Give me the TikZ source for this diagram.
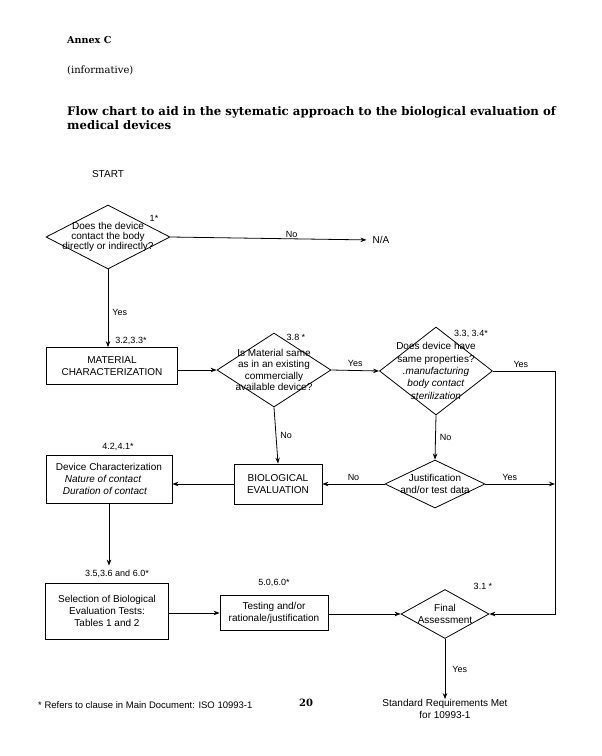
\documentclass[tikz,border=0pt]{standalone}
\usepackage{fontspec}
\setmainfont{Liberation Sans}
\newfontfamily\hdr{DejaVu Serif}
\usetikzlibrary{shapes.geometric,arrows.meta}
\begin{document}
\begin{tikzpicture}[x=1pt,y=-1pt,
  font=\fontsize{10}{12}\selectfont,
  box/.style={draw, line width=0.8pt, align=center, inner sep=0pt},
  dia/.style={draw, diamond, line width=0.8pt, inner sep=0pt},
  arr/.style={-{Stealth[length=6pt,width=4.5pt]}, line width=0.8pt},
  ln/.style={line width=0.8pt},
  lbl/.style={font=\fontsize{9}{10}\selectfont, inner sep=1pt},
  txt/.style={inner sep=0pt, align=center}]
\useasboundingbox (0,0) rectangle (602,756);

% header
\node[anchor=west, inner sep=0pt, font=\hdr\bfseries\fontsize{9.6}{12}\selectfont] (annex) at (67,40) {Annex C};
\node[anchor=west, inner sep=0pt, font=\hdr\fontsize{10}{12}\selectfont] (inf) at (67,70) {(informative)};
\node[anchor=west, inner sep=0pt, align=left, font=\hdr\bfseries\fontsize{11.75}{14}\selectfont] (title) at (67,118)
  {Flow chart to aid in the sytematic approach to the biological evaluation of\\medical devices};

\node[txt] (start) at (108,174) {START};

% nodes
\node[dia, minimum width=124pt, minimum height=64pt,
  label={[txt, font=\fontsize{10}{10}\selectfont]center:Does the device\\contact the body\\directly or indirectly?}] (d1) at (108,237) {};
\node[txt] (na) at (381,240) {N/A};

\node[box, minimum width=131pt, minimum height=37pt] (mat) at (112,366) {MATERIAL\\CHARACTERIZATION};

\node[dia, minimum width=114pt, minimum height=74pt,
  label={[txt, font=\fontsize{10}{11.5}\selectfont]center:Is Material same\\as in an existing\\commercially\\available device?}] (d2) at (274,370) {};

\node[dia, minimum width=113pt, minimum height=88pt,
  label={[txt, font=\fontsize{10}{12.3}\selectfont]center:Does device have\\same properties?\\\textit{.manufacturing}\\\textit{body contact}\\\textit{sterilization}}] (d3) at (436,371) {};

\coordinate (rl) at (555,371);

\node[dia, minimum width=100pt, minimum height=48pt,
  label={[txt, font=\fontsize{10}{12}\selectfont]center:Justification\\and/or test data}] (d4) at (435,484) {};

\node[box, minimum width=88pt, minimum height=40pt] (bio) at (278,484) {BIOLOGICAL\\EVALUATION};

\node[box, minimum width=126pt, minimum height=48pt, align=left] (dev) at (109,479)
  {Device Characterization\\\hspace{9pt}\textit{Nature of contact}\\\hspace{7pt}\textit{Duration of contact}};

\node[box, minimum width=123pt, minimum height=56pt] (sel) at (107,611)
  {Selection of Biological\\Evaluation Tests:\\Tables 1 and 2};

\node[box, minimum width=108pt, minimum height=35pt] (test) at (274,613)
  {Testing and/or\\rationale/justification};

\node[dia, minimum width=88pt, minimum height=49pt,
  label={[txt, font=\fontsize{10}{12}\selectfont]center:Final\\Assessment}] (d5) at (445,614) {};

\node[txt] (std) at (445,709) {Standard Requirements Met\\for 10993-1};

% connectors
\draw[arr, shorten >=6pt] (d1.east) -- (na.west) node[lbl, pos=0.6, above] {No};
\draw[arr] (d1.south) -- (d1.south |- mat.north) node[lbl, pos=0.55, right=3pt] {Yes};
\draw[arr] (mat.east |- d2.west) -- (d2.west);
\draw[arr] (d2.east) -- (d3.west) node[lbl, midway, above=3pt] {Yes};
\draw[ln] (d3.east) -- (rl) node[lbl, pos=0.45, above=2pt] {Yes};
\draw[arr] (rl) |- (d5.east);
\draw[arr] (d3.south) -- (d4.north) node[lbl, midway, right=3pt] {No};
\draw[arr] (d4.east) -- (d4.east -| rl) node[lbl, pos=0.35, above=2pt] {Yes};
\draw[arr] (d4.west) -- (bio.east) node[lbl, midway, above=2pt] {No};
\draw[arr] (d2.south) -- (bio.north) node[lbl, midway, right=3pt] {No};
\draw[arr] (bio.west) -- (bio.west -| dev.east);
\draw[arr, shorten >=17pt] (dev.south) -- (dev.south |- sel.north);
\draw[arr] (sel.east |- test.west) -- (test.west);
\draw[arr] (test.east |- d5.west) -- (d5.west);
\draw[arr] (d5.south) -- (std.north) node[lbl, midway, right=6pt] {Yes};

% clause labels
\node[lbl] (l1) at (154,218) {1*};
\node[lbl] (l2) at (131,341) {3.2,3.3*};
\node[lbl] (l3) at (296,337) {3.8 *};
\node[lbl] (l4) at (471,334) {3.3, 3.4*};
\node[lbl] (l5) at (118,447) {4.2,4.1*};
\node[lbl] (l6) at (117,574) {3.5,3.6 and 6.0*};
\node[lbl] (l7) at (274,583) {5.0,6.0*};
\node[lbl] (l8) at (483,586) {3.1 *};

% footer
\node[anchor=west, inner sep=0pt, font=\fontsize{9.5}{11}\selectfont] (foot) at (38,705)
  {* Refers to clause in Main Document: ISO 10993-1};
\node[inner sep=0pt, font=\hdr\bfseries\fontsize{10}{12}\selectfont] (pg) at (306,703) {20};
\end{tikzpicture}
\end{document}
